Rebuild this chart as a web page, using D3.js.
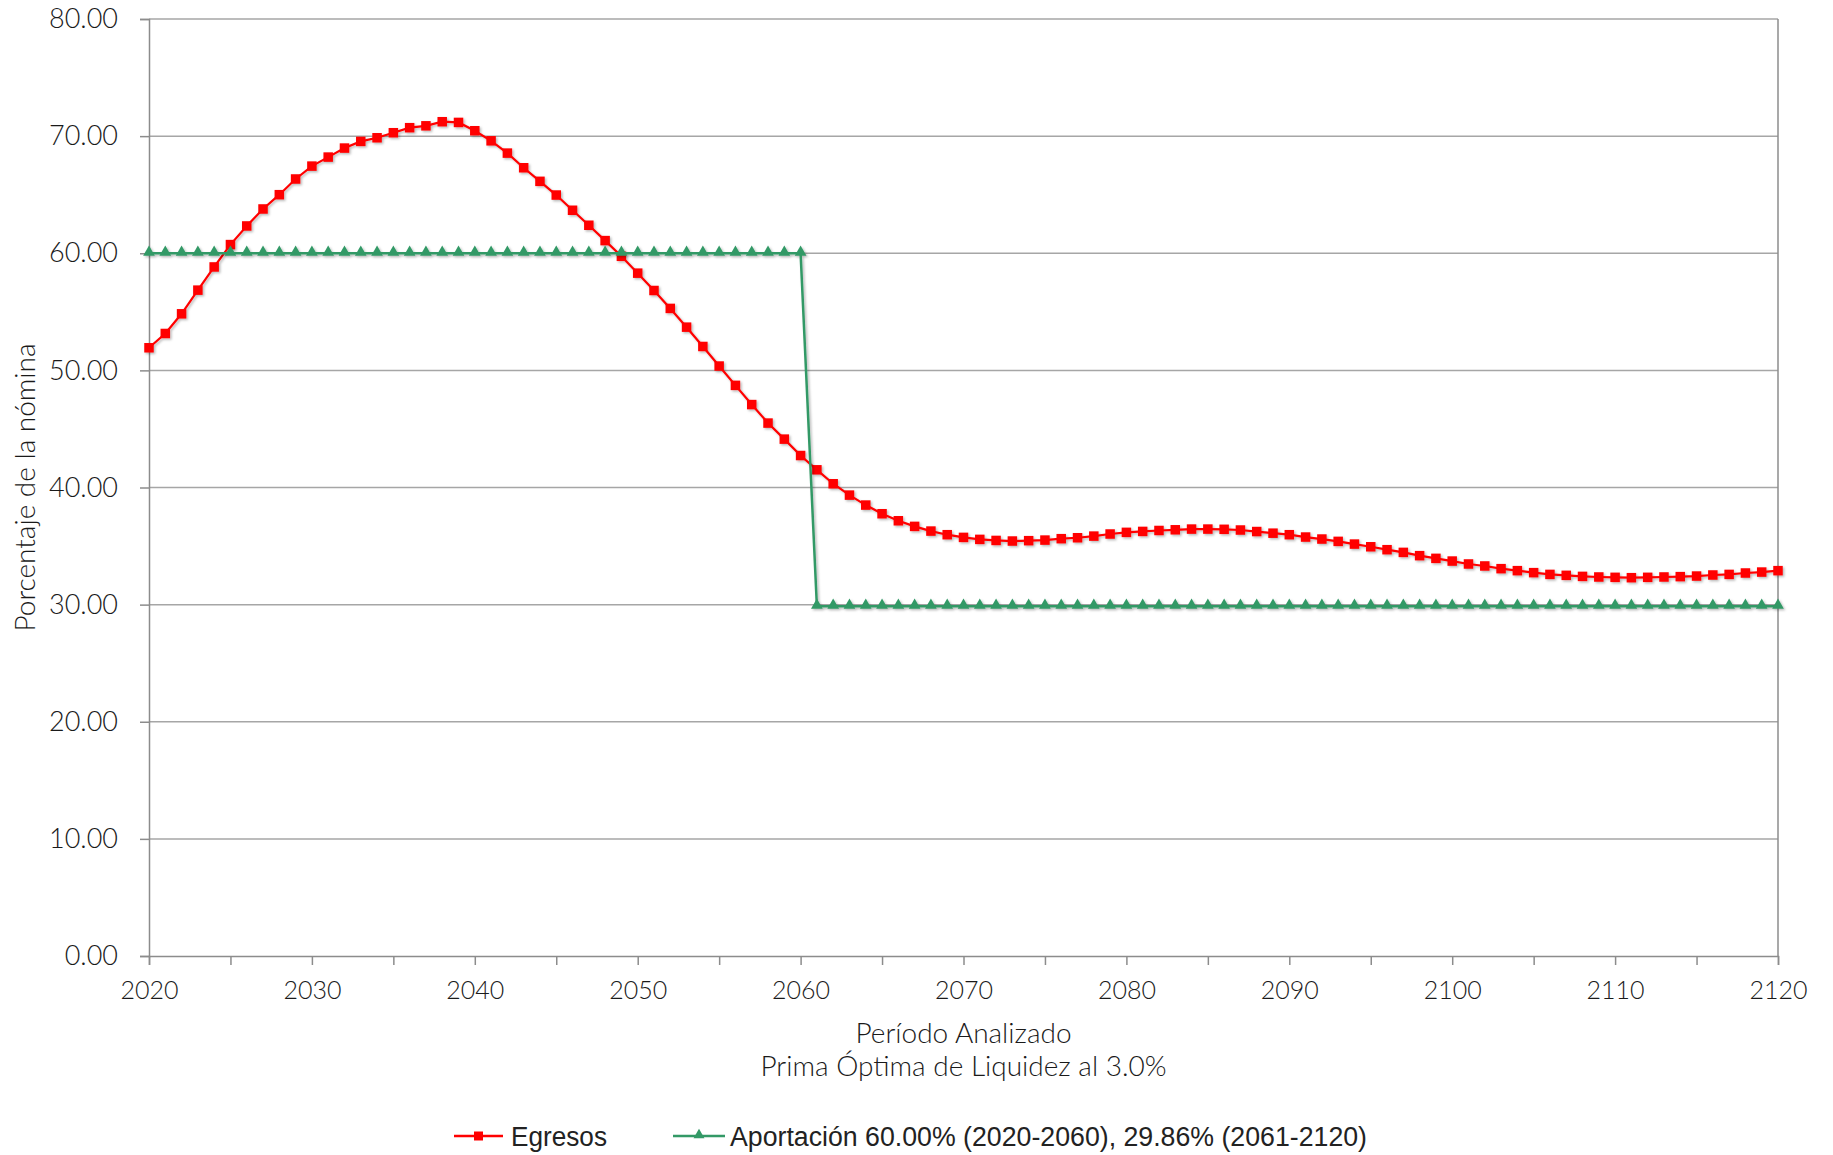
<!DOCTYPE html>
<html>
<head>
<meta charset="utf-8">
<script src="https://cdn.jsdelivr.net/npm/d3@7"></script>
<style>
  html, body { margin: 0; padding: 0; background: #fff; }
  svg { display: block; }
</style>
</head>
<body>
<svg id="chart" width="1833" height="1155"></svg>
<script>
const years = d3.range(2020, 2121);
const egresos = [
  51.93, 53.15, 54.83, 56.85, 58.83, 60.74, 62.33, 63.78, 65.00, 66.34,
  67.44, 68.21, 68.98, 69.55, 69.86, 70.29, 70.72, 70.88, 71.23, 71.17,
  70.46, 69.60, 68.55, 67.30, 66.14, 64.97, 63.67, 62.39, 61.08, 59.74,
  58.30, 56.82, 55.29, 53.69, 52.04, 50.37, 48.72, 47.08, 45.50, 44.13,
  42.73, 41.51, 40.32, 39.35, 38.50, 37.76, 37.16, 36.68, 36.28, 35.97,
  35.74, 35.57, 35.48, 35.43, 35.46, 35.51, 35.63, 35.71, 35.85, 36.03,
  36.17, 36.25, 36.33, 36.39, 36.45, 36.45, 36.43, 36.37, 36.24, 36.10,
  35.97, 35.77, 35.60, 35.40, 35.17, 34.94, 34.69, 34.46, 34.18, 33.95,
  33.72, 33.47, 33.30, 33.07, 32.90, 32.73, 32.58, 32.50, 32.41, 32.36,
  32.33, 32.30, 32.33, 32.36, 32.39, 32.44, 32.53, 32.58, 32.70, 32.78,
  32.90
];
const aportRates = [60.00, 29.86];
const aportPeriods = [[2020, 2060], [2061, 2120]];
const aportacion = years.map(y => aportRates[aportPeriods.findIndex(p => y >= p[0] && y <= p[1])]);
const yTicks = [0, 10, 20, 30, 40, 50, 60, 70, 80];
const xTickLabels = [2020, 2030, 2040, 2050, 2060, 2070, 2080, 2090, 2100, 2110, 2120];
const xMinorTicks = d3.range(2020, 2121, 5);
const seriesNames = ["Egresos", "Aportación 60.00% (2020-2060), 29.86% (2061-2120)"];
const xTitle = ["Período Analizado", "Prima Óptima de Liquidez al 3.0%"];
const yTitle = "Porcentaje de la nómina";

const W = 1833, H = 1155;
const m = { left: 149, right: 55, top: 19, bottom: 199 };
const svg = d3.select("#chart");
const x = d3.scaleLinear().domain([2020, 2120]).range([m.left, W - m.right]);
const y = d3.scaleLinear().domain([0, 80]).range([H - m.bottom, m.top]);

const RED = "#ff0000", GREEN = "#339966", GRID = "#a6a6a6", AXIS = "#8c8c8c", TXT = "#1a1a1a";
const FONT = "Lato, 'Open Sans', sans-serif";

const defs = svg.append("defs");
const f = defs.append("filter").attr("id", "shadow").attr("x", "-5%").attr("y", "-5%").attr("width", "110%").attr("height", "110%");
f.append("feDropShadow").attr("dx", 1.5).attr("dy", 1.5).attr("stdDeviation", 1.2)
  .attr("flood-color", "#000").attr("flood-opacity", 0.28);

// gridlines
svg.append("g").selectAll("line").data(yTicks.filter(d => d > 0)).join("line")
  .attr("x1", m.left).attr("x2", W - m.right)
  .attr("y1", d => y(d)).attr("y2", d => y(d))
  .attr("stroke", GRID).attr("stroke-width", 1.5);

// right border
svg.append("line").attr("x1", W - m.right).attr("x2", W - m.right)
  .attr("y1", y(80)).attr("y2", y(0)).attr("stroke", AXIS).attr("stroke-width", 1.5);

// Y axis
const yAxis = svg.append("g").attr("transform", `translate(${m.left},0)`)
  .call(d3.axisLeft(y).tickValues(yTicks).tickSize(9).tickPadding(22).tickFormat(d3.format(".2f")));
yAxis.select(".domain").attr("stroke", AXIS).attr("stroke-width", 1.5);
yAxis.selectAll(".tick line").attr("stroke", AXIS).attr("stroke-width", 1.5);
yAxis.selectAll("text").attr("font-family", FONT).attr("font-weight", 300).attr("font-size", 27).attr("fill", TXT);

// X axis
const xAxis = svg.append("g").attr("transform", `translate(0,${y(0)})`)
  .call(d3.axisBottom(x).tickValues(xMinorTicks).tickSize(9).tickPadding(16)
    .tickFormat(d => xTickLabels.includes(d) ? String(d) : ""));
xAxis.select(".domain").attr("stroke", AXIS).attr("stroke-width", 1.5);
xAxis.selectAll(".tick line").attr("stroke", AXIS).attr("stroke-width", 1.5);
xAxis.selectAll("text").attr("font-family", FONT).attr("font-weight", 300).attr("font-size", 25).attr("fill", TXT);

// axis titles
svg.append("text").attr("x", (m.left + W - m.right) / 2).attr("y", 1043)
  .attr("text-anchor", "middle").attr("font-family", FONT).attr("font-weight", 300)
  .attr("font-size", 28).attr("fill", TXT).text(xTitle[0]);
svg.append("text").attr("x", (m.left + W - m.right) / 2).attr("y", 1076)
  .attr("text-anchor", "middle").attr("font-family", FONT).attr("font-weight", 300)
  .attr("font-size", 28).attr("fill", TXT).text(xTitle[1]);
svg.append("text").attr("transform", `translate(35,${(y(0) + y(80)) / 2}) rotate(-90)`)
  .attr("text-anchor", "middle").attr("font-family", FONT).attr("font-weight", 300)
  .attr("font-size", 28).attr("fill", TXT).text(yTitle);

// lines
const line = d3.line().x((d, i) => x(years[i])).y(d => y(d));
const gE = svg.append("g").attr("filter", "url(#shadow)");
const gA = svg.append("g").attr("filter", "url(#shadow)");

gA.append("path").datum(aportacion).attr("d", line).attr("fill", "none")
  .attr("stroke", GREEN).attr("stroke-width", 2.5);
gA.selectAll("path.m").data(aportacion).join("path").attr("class", "m")
  .attr("transform", (d, i) => `translate(${x(years[i])},${y(d) - 1})`)
  .attr("d", d3.symbol(d3.symbolTriangle, 60)).attr("fill", GREEN);

gE.append("path").datum(egresos).attr("d", line).attr("fill", "none")
  .attr("stroke", RED).attr("stroke-width", 2.2);
gE.selectAll("rect").data(egresos).join("rect")
  .attr("x", (d, i) => x(years[i]) - 4.75).attr("y", d => y(d) - 4.75)
  .attr("width", 9.5).attr("height", 9.5).attr("fill", RED);

// legend
const legY = 1136;
const leg = [
  { x1: 454, x2: 503, tx: 511, tw: 96, color: RED, sym: "sq" },
  { x1: 673, x2: 725, tx: 730, tw: 637, color: GREEN, sym: "tri" }
];
leg.forEach((l, i) => {
  const g = svg.append("g");
  g.append("line").attr("x1", l.x1).attr("x2", l.x2).attr("y1", legY).attr("y2", legY)
    .attr("stroke", l.color).attr("stroke-width", 2.5);
  const cx = (l.x1 + l.x2) / 2;
  if (l.sym === "sq") {
    g.append("rect").attr("x", cx - 4.5).attr("y", legY - 4.5).attr("width", 9).attr("height", 9).attr("fill", l.color);
  } else {
    g.append("path").attr("transform", `translate(${cx},${legY - 1})`)
      .attr("d", d3.symbol(d3.symbolTriangle, 52)).attr("fill", l.color);
  }
  g.append("text").attr("x", l.tx).attr("y", legY + 10)
    .attr("font-family", "'Liberation Sans Narrow', 'Liberation Sans', sans-serif")
    .attr("font-size", 27).attr("fill", "#222")
    .attr("textLength", l.tw).attr("lengthAdjust", "spacingAndGlyphs")
    .text(seriesNames[i]);
});
</script>
</body>
</html>
